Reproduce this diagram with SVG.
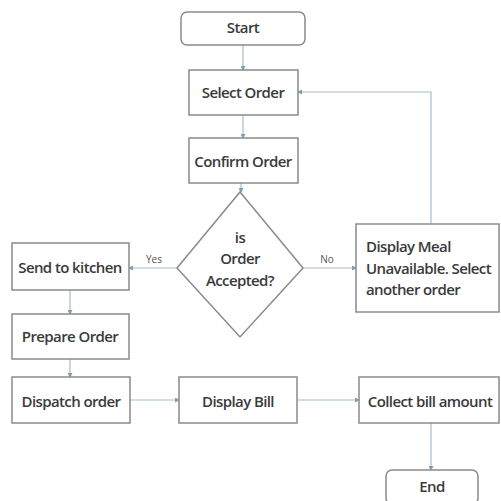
<svg xmlns="http://www.w3.org/2000/svg" width="501" height="501" viewBox="0 0 501 501">
<defs>
<marker id="ah" markerWidth="5" markerHeight="5" refX="4" refY="2.5" orient="auto" markerUnits="userSpaceOnUse">
<path d="M0,0 L5,2.5 L0,5 Z" fill="#7f9fb0"/>
</marker>
</defs>
<style>
.box{fill:#fff;stroke:#8a8a8a;stroke-width:1.5}
.t{font-family:"Open Sans","Liberation Sans",sans-serif;font-size:15px;font-weight:600;fill:#3a3a3a;text-anchor:middle;letter-spacing:-0.6px}
.l{font-family:"Open Sans","Liberation Sans",sans-serif;font-size:10px;fill:#555;text-anchor:middle}
.c{fill:none;stroke:#a7bcc8;stroke-width:1.2;marker-end:url(#ah)}
</style>
<rect width="501" height="501" fill="#fff"/>
<g id="connectors">
<line class="c" x1="243" y1="45" x2="243" y2="70"/>
<line class="c" x1="243" y1="115" x2="243" y2="138"/>
<line class="c" x1="241" y1="183" x2="241" y2="192"/>
<line class="c" x1="177" y1="268" x2="129" y2="268"/>
<line class="c" x1="303" y1="268" x2="356" y2="268"/>
<polyline class="c" points="431,224 431,92 298,92"/>
<line class="c" x1="70" y1="290" x2="70" y2="314"/>
<line class="c" x1="70" y1="359" x2="70" y2="377"/>
<line class="c" x1="130" y1="400" x2="179" y2="400"/>
<line class="c" x1="297" y1="400" x2="359" y2="400"/>
<line class="c" x1="431" y1="423" x2="431" y2="470"/>
<text class="l" x="154" y="263">Yes</text>
<text class="l" x="327" y="263">No</text>
</g>
<g id="start"><rect class="box" x="181" y="12" width="124" height="33" rx="6"/><text class="t" x="243" y="33">Start</text></g>
<g id="select"><rect class="box" x="189" y="70" width="109" height="45"/><text class="t" x="243" y="98">Select Order</text></g>
<g id="confirm"><rect class="box" x="189" y="138" width="109" height="45"/><text class="t" x="243" y="167">Confirm Order</text></g>
<g id="decision"><polygon class="box" points="240,192 303,268 240,337 177,268"/>
<text class="t" x="240" y="243">is</text><text class="t" x="240" y="264">Order</text><text class="t" x="240" y="286">Accepted?</text></g>
<g id="kitchen"><rect class="box" x="12" y="243" width="117" height="47"/><text class="t" x="70" y="273">Send to kitchen</text></g>
<g id="prepare"><rect class="box" x="12" y="314" width="117" height="45"/><text class="t" x="70" y="342">Prepare Order</text></g>
<g id="dispatch"><rect class="box" x="12" y="377" width="118" height="46"/><text class="t" x="71" y="407">Dispatch order</text></g>
<g id="bill"><rect class="box" x="179" y="377" width="118" height="46"/><text class="t" x="238" y="407">Display Bill</text></g>
<g id="collect"><rect class="box" x="359" y="377" width="140" height="46"/><text class="t" x="430" y="407">Collect bill amount</text></g>
<g id="end"><rect class="box" x="386" y="470" width="92" height="34" rx="6"/><text class="t" x="432" y="492">End</text></g>
<g id="unavailable"><rect class="box" x="356" y="224" width="143" height="88"/>
<text class="t" style="text-anchor:start" x="366" y="252">Display Meal</text>
<text class="t" style="text-anchor:start" x="366" y="274">Unavailable. Select</text>
<text class="t" style="text-anchor:start" x="366" y="295">another order</text></g>
</svg>
